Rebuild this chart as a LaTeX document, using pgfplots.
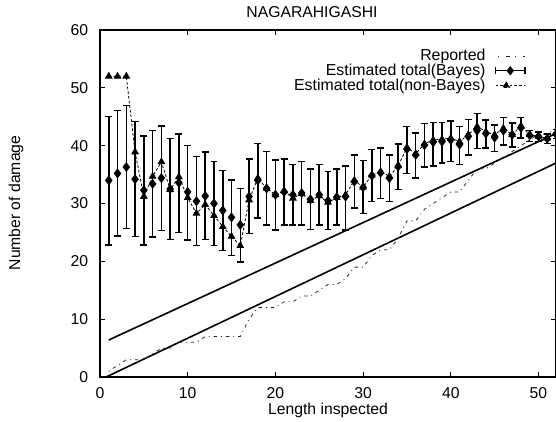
\documentclass[border=0pt]{standalone}
\usepackage{pgfplots}
\pgfplotsset{compat=1.18}
\usepackage{pgfplotstable}
\usepackage{fontspec}
\setmainfont{Liberation Sans}

\pgfplotstableread{
x  B    lo   hi   NB
1  34.0 22.8 45.0 52.0
2  35.2 24.4 46.1 52.0
3  36.3 25.7 46.9 52.0
4  34.2 24.3 44.2 38.9
5  32.3 22.8 41.7 31.2
6  33.4 24.2 42.6 34.7
7  34.4 25.3 43.4 37.2
8  32.5 23.8 41.2 32.4
9  33.6 25.0 42.0 34.6
10 32.0 23.7 40.0 31.0
11 30.4 22.7 38.1 28.3
12 31.3 23.8 38.9 29.8
13 30.0 22.7 37.3 27.9
14 28.8 21.9 35.7 26.0
15 27.6 21.0 34.1 24.3
16 26.3 19.9 32.6 22.7
17 31.2 24.8 37.7 30.6
18 34.0 27.5 40.4 34.4
19 32.6 26.3 39.0 32.6
20 31.5 25.4 37.5 31.5
21 32.0 26.3 37.7 32.2
22 31.5 26.3 36.7 30.9
23 31.8 26.3 37.3 31.7
24 30.7 25.5 36.0 30.5
25 31.5 26.3 36.7 31.3
26 30.5 25.5 35.5 30.2
27 31.1 26.3 36.0 31.0
28 31.2 25.4 36.5 31.5
29 33.8 29.2 38.4 34.0
30 32.8 28.3 37.4 32.8
31 34.8 30.3 39.3 34.9
32 35.3 30.9 39.6 35.5
33 34.4 30.3 38.4 34.7
34 36.4 32.4 40.3 36.5
35 39.4 35.2 43.3 39.7
36 38.4 34.4 42.2 38.6
37 40.1 36.3 43.8 40.3
38 40.6 36.5 44.0 41.0
39 40.7 37.0 44.0 41.1
40 41.0 37.3 44.3 41.3
41 40.2 36.7 43.3 40.7
42 41.6 38.4 44.5 41.9
43 42.6 39.5 45.6 43.3
44 42.1 39.6 44.4 42.4
45 41.4 39.0 43.6 41.9
46 42.6 40.1 44.9 43.0
47 41.9 39.8 43.9 41.9
48 43.1 41.3 44.9 43.4
49 41.8 40.7 42.6 41.9
50 41.6 40.7 42.4 41.6
51 41.2 40.4 42.0 41.3
52 42.0 41.2 42.8 42.2
}\est

\pgfplotstableread{
x  r
1  1
2  2
3  3
4  3
5  3
6  4
7  5
8  5
9  6
10 6
11 6
12 7
13 7
14 7
15 7
16 7
17 10
18 12
19 12
20 12
21 13
22 13
23 14
24 14
25 15
26 16
27 16
28 17
29 19
30 19
31 21
32 22
33 22
34 24
35 27
36 27
37 29
38 30
39 31
40 32
41 32
42 34
43 36
44 36
45 37
46 38
47 39
48 40
49 41
50 42
51 42
52 43
}\rep

\begin{document}
\begin{tikzpicture}
\useasboundingbox (-75pt,-33pt) rectangle (342pt,282.75pt);
\begin{axis}[
  at={(0pt,0pt)}, anchor=south west,
  width=342pt, height=260.25pt, scale only axis,
  xmin=0, xmax=52, ymin=0, ymax=60,
  xtick={0,10,...,50}, ytick={0,10,...,60},
  tick align=inside, major tick length=3.5pt,
  every axis/.append style={line width=1.2pt},
  tick style={line width=0.8pt, black},
  font=\fontsize{11.8}{13}\selectfont,
  /pgf/number format/assume math mode=true,
  xticklabel style={yshift=-4pt},
  yticklabel style={xshift=-5pt},
  legend plot pos=right,
  legend cell align=right,
  legend style={at={(rel axis cs:0.944,0.958)}, anchor=north east,
    draw=none, fill=none, font=\fontsize{11.9}{13}\selectfont,
    nodes={inner sep=1pt}, row sep=-1.2pt,
    /tikz/column 1/.style={column sep=6pt}},
]
\addplot[black, line width=1.2pt, forget plot] coordinates {(1,6.4) (52,42.1)};
\addplot[black, line width=1.2pt, forget plot] coordinates {(0.7,0) (52,37.0)};

\addplot[black!85, line width=0.6pt, dash pattern=on 0.7pt off 3pt on 2.5pt off 3pt,
  legend image code/.code={\draw[black!85, line width=0.7pt, dash pattern=on 0.8pt off 5pt on 3pt off 4pt] (2pt,0pt) -- (22pt,0pt);}]
  table[x=x, y=r] {\rep};
\addlegendentry{Reported}

\addplot[black, only marks, mark=diamond*, mark size=2.8pt,
  error bars/.cd, y dir=both, y explicit,
  error bar style={line width=1.1pt},
  error mark options={rotate=90, mark size=2.6pt, line width=1.1pt},
  /pgfplots/legend image code/.code={
    \draw[black, line width=1.1pt] (0pt,0pt) -- (22pt,0pt);
    \draw[black, line width=1.1pt] (0pt,-2.6pt) -- (0pt,2.6pt);
    \draw[black, line width=1.1pt] (22pt,-2.6pt) -- (22pt,2.6pt);
    \fill[black] (11pt,2.6pt) -- (13pt,0pt) -- (11pt,-2.6pt) -- (9pt,0pt) -- cycle;}]
  table[x=x, y=B, y error plus expr=\thisrow{hi}-\thisrow{B}, y error minus expr=\thisrow{B}-\thisrow{lo}] {\est};
\addlegendentry{Estimated total(Bayes)}

\addplot[black, line width=0.6pt, dash pattern=on 2pt off 1.5pt,
  mark=triangle*, mark size=2.8pt, mark options={solid},
  legend image code/.code={
    \draw[black, line width=0.6pt, dash pattern=on 2pt off 1.5pt] (0pt,0pt) -- (22pt,0pt);
    \fill[black] (8pt,2.6pt) -- (10.5pt,-1.6pt) -- (5.5pt,-1.6pt) -- cycle;}]
  table[x=x, y=NB] {\est};
\addlegendentry{Estimated total(non-Bayes)}
\end{axis}
\node[font=\fontsize{11.8}{13}\selectfont] at (159pt,273.75pt) {NAGARAHIGASHI};
\node[font=\fontsize{11.8}{13}\selectfont] at (171pt,-24.75pt) {Length inspected};
\node[font=\fontsize{11.8}{13}\selectfont, rotate=90] at (-63pt,130.5pt) {Number of damage};
\end{tikzpicture}
\end{document}
